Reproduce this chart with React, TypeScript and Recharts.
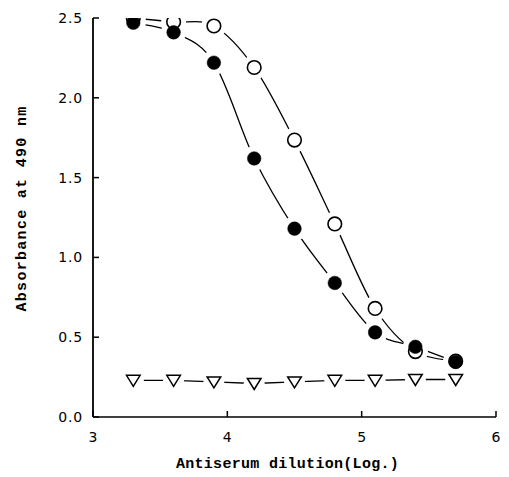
import React from 'react';
import { LineChart, Line, XAxis, YAxis } from 'recharts';

const dilution = [3.3, 3.6, 3.9, 4.2, 4.5, 4.8, 5.1, 5.4, 5.7];
const openCircle = [2.5, 2.475, 2.45, 2.19, 1.735, 1.21, 0.68, 0.41, 0.35];
const filledCircle = [2.47, 2.41, 2.22, 1.62, 1.18, 0.84, 0.53, 0.44, 0.345];
const openTriangle = [0.23, 0.23, 0.22, 0.21, 0.22, 0.23, 0.23, 0.235, 0.235];

const xTicks = [3, 4, 5, 6];
const yTicks = [0, 0.5, 1.0, 1.5, 2.0, 2.5];

const xTitle = 'Antiserum dilution(Log.)';
const yTitle = 'Absorbance at 490 nm';

const data = dilution.map((x, i) => ({
  x,
  open: openCircle[i],
  filled: filledCircle[i],
  tri: openTriangle[i],
}));

const tickFont = { fontFamily: '"DejaVu Sans", sans-serif', fontSize: 14, fill: '#000' };
const titleFont = { fontFamily: '"Liberation Mono", monospace', fontWeight: 700 as const, fill: '#000' };

// Catmull-Rom style cardinal curve factory (d3 curve interface)
const cardinalCurve: any = (context: any) => {
  let pts: number[][] = [];
  const k = 1 / 6;
  return {
    areaStart() {},
    areaEnd() {},
    lineStart() {
      pts = [];
    },
    point(x: number, y: number) {
      pts.push([+x, +y]);
    },
    lineEnd() {
      const n = pts.length;
      if (n === 0) return;
      context.moveTo(pts[0][0], pts[0][1]);
      for (let i = 0; i < n - 1; i++) {
        const p0 = pts[i - 1] || pts[i];
        const p1 = pts[i];
        const p2 = pts[i + 1];
        const p3 = pts[i + 2] || pts[i + 1];
        context.bezierCurveTo(
          p1[0] + (p2[0] - p0[0]) * k,
          p1[1] + (p2[1] - p0[1]) * k,
          p2[0] - (p3[0] - p1[0]) * k,
          p2[1] - (p3[1] - p1[1]) * k,
          p2[0],
          p2[1]
        );
      }
    },
  };
};

const YTick = (props: any) => {
  const { x, y, payload } = props;
  return (
    <g>
      <line x1={x} y1={y} x2={x + 6} y2={y} stroke="#000" strokeWidth={1.5} />
      <text x={x - 10} y={y} dy="0.36em" textAnchor="end" {...tickFont} letterSpacing={0.8}>
        {Number(payload.value).toFixed(1)}
      </text>
    </g>
  );
};

const XTick = (props: any) => {
  const { x, y, payload } = props;
  return (
    <g>
      <line x1={x} y1={y} x2={x} y2={y - 6} stroke="#000" strokeWidth={1.5} />
      <text x={x} y={y + 25} textAnchor="middle" {...tickFont}>
        {payload.value}
      </text>
    </g>
  );
};

const halo = (r: number, tag: string) => (props: any) => {
  const { cx, cy, index } = props;
  if (cx == null || cy == null) return <g key={`${tag}-${index}`} />;
  return <circle key={`${tag}-${index}`} cx={cx} cy={cy} r={r} fill="#fff" stroke="none" />;
};

const OpenDot = (props: any) => {
  const { cx, cy, index } = props;
  return <circle key={`o-${index}`} cx={cx} cy={cy} r={6.8} fill="none" stroke="#000" strokeWidth={1.6} />;
};

const FilledDot = (props: any) => {
  const { cx, cy, index } = props;
  return <circle key={`f-${index}`} cx={cx} cy={cy} r={6.8} fill="#000" stroke="#000" strokeWidth={0.5} />;
};

const TriDot = (props: any) => {
  const { cx, cy, index } = props;
  const pts = `${cx - 6.8},${cy - 5} ${cx + 6.8},${cy - 5} ${cx},${cy + 6}`;
  return <polygon key={`t-${index}`} points={pts} fill="#fff" stroke="#000" strokeWidth={1.5} strokeLinejoin="miter" />;
};

const XLabel = (props: any) => {
  const vb = props.viewBox || {};
  return (
    <text x={vb.x + vb.width / 2 - 7} y={vb.y + 51} textAnchor="middle" fontSize={15} letterSpacing={0.3} {...titleFont}>
      {xTitle}
    </text>
  );
};

const YLabel = (props: any) => {
  const vb = props.viewBox || {};
  const cx = 26;
  const cy = vb.y + vb.height / 2 - 9;
  return (
    <text x={cx} y={cy} textAnchor="middle" fontSize={15} letterSpacing={1.3} transform={`rotate(-90, ${cx}, ${cy})`} {...titleFont}>
      {yTitle}
    </text>
  );
};

export default function App() {
  return (
    <div style={{ position: 'absolute', left: 0, top: 0, width: 509, height: 477, background: '#fff' }}>
      <LineChart width={509} height={477} data={data} margin={{ top: 18, right: 13, left: 0, bottom: 0 }}>
        <XAxis
          dataKey="x"
          type="number"
          domain={[3, 6]}
          ticks={xTicks}
          height={60}
          tickSize={0}
          tickMargin={0}
          tickLine={false}
          axisLine={{ stroke: '#000', strokeWidth: 1.6 }}
          tick={<XTick />}
          label={<XLabel />}
          allowDataOverflow
        />
        <YAxis
          type="number"
          domain={[0, 2.5]}
          ticks={yTicks}
          width={93}
          tickSize={0}
          tickMargin={0}
          tickLine={false}
          axisLine={{ stroke: '#000', strokeWidth: 1.8 }}
          tick={<YTick />}
          label={<YLabel />}
          allowDataOverflow
        />
        <Line dataKey="tri" type="linear" stroke="#000" strokeWidth={1.3} dot={false} activeDot={false} isAnimationActive={false} />
        <Line dataKey="open" type={cardinalCurve} stroke="#000" strokeWidth={1.3} dot={false} activeDot={false} isAnimationActive={false} />
        <Line dataKey="filled" type={cardinalCurve} stroke="#000" strokeWidth={1.3} dot={false} activeDot={false} isAnimationActive={false} />
        <Line dataKey="tri" stroke="none" dot={halo(10.5, 'ht')} activeDot={false} isAnimationActive={false} />
        <Line dataKey="open" stroke="none" dot={halo(12.5, 'ho')} activeDot={false} isAnimationActive={false} />
        <Line dataKey="filled" stroke="none" dot={halo(12.5, 'hf')} activeDot={false} isAnimationActive={false} />
        <Line dataKey="tri" stroke="none" dot={TriDot} activeDot={false} isAnimationActive={false} />
        <Line dataKey="filled" stroke="none" dot={FilledDot} activeDot={false} isAnimationActive={false} />
        <Line dataKey="open" stroke="none" dot={OpenDot} activeDot={false} isAnimationActive={false} />
      </LineChart>
    </div>
  );
}
